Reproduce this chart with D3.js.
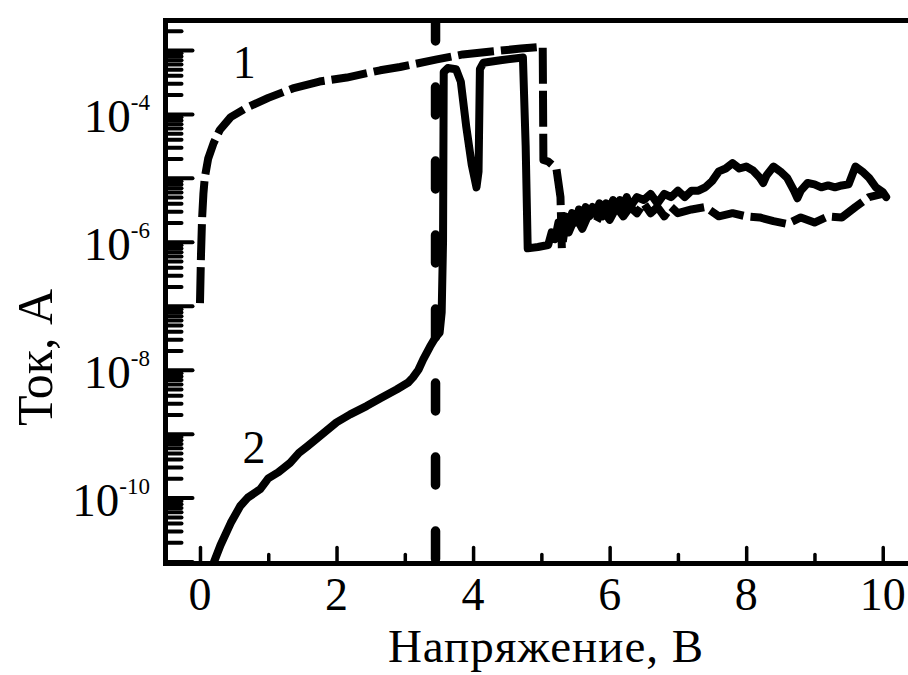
<!DOCTYPE html>
<html>
<head>
<meta charset="utf-8">
<script src="https://cdn.jsdelivr.net/npm/d3@7/dist/d3.min.js"></script>
<style>
  html, body { margin: 0; padding: 0; background: #fff; }
  svg { display: block; }
  svg text { font-family: 'Liberation Serif', 'Times New Roman', Tinos, 'Nimbus Roman', 'DejaVu Serif', serif; fill: #000; }
</style>
</head>
<body>
<svg id="chart" width="908" height="675"></svg>
<script>
// Curve 1 (dashed): current vs voltage
const voltage1 = [0.00, 0.015, 0.03, 0.05, 0.07, 0.12, 0.2, 0.29, 0.45, 0.69, 1.0, 1.36, 1.75, 2.15, 2.64, 2.93, 3.47, 3.85, 4.3, 4.7, 5.02,
  5.03, 5.1, 5.22, 5.28, 5.3, 5.35, 5.4, 5.5, 5.6, 5.7, 5.8, 5.9, 6.0, 6.1, 6.2, 6.3, 6.4, 6.5, 6.6, 6.7, 6.8, 6.9, 7.0,
  7.2, 7.4, 7.6, 7.8, 8.0, 8.2, 8.4, 8.6, 8.8, 9.0, 9.2, 9.4, 9.6, 9.8, 10.0];
const current1 = [1.1e-7, 6.3e-7, 2.2e-6, 5.6e-6, 1.0e-5, 2.0e-5, 3.5e-5, 5.6e-5, 8.9e-5, 1.26e-4, 1.78e-4, 2.5e-4, 3.2e-4, 3.7e-4, 4.8e-4, 5.4e-4, 7.1e-4, 8.5e-4, 9.5e-4, 1.05e-3, 1.12e-3,
  1.9e-5, 1.8e-5, 1.4e-5, 5.0e-6, 7.9e-7, 1.8e-6, 1.4e-6, 2.5e-6, 1.6e-6, 2.8e-6, 2.0e-6, 3.2e-6, 2.2e-6, 3.5e-6, 2.5e-6, 3.5e-6, 2.8e-6, 4.0e-6, 2.8e-6, 3.5e-6, 2.5e-6, 3.5e-6, 2.8e-6,
  3.2e-6, 3.5e-6, 2.5e-6, 2.8e-6, 2.5e-6, 2.4e-6, 2.1e-6, 1.9e-6, 2.4e-6, 2.0e-6, 2.5e-6, 2.4e-6, 3.5e-6, 5.0e-6, 5.6e-6];

// Curve 2 (solid): current vs voltage
const voltage2 = [0.17, 0.3, 0.45, 0.59, 0.7, 0.88, 1.0, 1.15, 1.32, 1.45, 1.57, 1.8, 2.0, 2.2, 2.44, 2.65, 2.88, 3.05, 3.12, 3.2, 3.27, 3.37, 3.45, 3.51, 3.54, 3.56,
  3.57, 3.63, 3.75, 3.82, 3.9, 3.98, 4.05, 4.08, 4.1, 4.15, 4.4, 4.73, 4.77, 4.8, 4.95, 5.1,
  5.15, 5.2, 5.25, 5.3, 5.35, 5.4, 5.45, 5.5, 5.55, 5.6, 5.65, 5.7, 5.75, 5.8, 5.85, 5.9, 5.95, 6.0, 6.05, 6.1, 6.15, 6.2, 6.25, 6.3,
  6.4, 6.5, 6.6, 6.7, 6.8, 6.9, 7.0, 7.1, 7.2, 7.3, 7.4, 7.5, 7.6, 7.7, 7.8, 7.9, 8.0, 8.1, 8.2, 8.25, 8.3, 8.4, 8.5, 8.6, 8.7, 8.75, 8.8, 8.9,
  9.0, 9.1, 9.2, 9.3, 9.4, 9.5, 9.6, 9.7, 9.8, 9.9, 10.0, 10.05];
const current2 = [7.9e-12, 1.8e-11, 4.0e-11, 7.4e-11, 1.0e-10, 1.35e-10, 2.0e-10, 2.5e-10, 3.5e-10, 5.0e-10, 6.3e-10, 1.0e-9, 1.5e-9, 2.0e-9, 2.7e-9, 3.6e-9, 4.9e-9, 6.3e-9, 7.6e-9, 1.0e-8, 1.45e-8, 2.3e-8, 3.2e-8, 3.8e-8, 7.9e-8, 1.0e-6,
  4.5e-4, 5.2e-4, 5.0e-4, 3.2e-4, 6.3e-5, 1.6e-5, 7.1e-6, 1.26e-5, 5.0e-4, 6.3e-4, 6.9e-4, 7.6e-4, 3.2e-5, 7.9e-7, 8.3e-7, 8.9e-7,
  1.4e-6, 1.1e-6, 2.0e-6, 1.4e-6, 2.5e-6, 1.8e-6, 2.8e-6, 2.0e-6, 3.2e-6, 2.2e-6, 3.5e-6, 2.5e-6, 3.5e-6, 2.8e-6, 4.0e-6, 2.5e-6, 4.0e-6, 3.2e-6, 4.5e-6, 3.2e-6, 4.5e-6, 3.5e-6, 5.0e-6, 3.5e-6,
  5.0e-6, 4.5e-6, 5.6e-6, 4.0e-6, 5.6e-6, 5.0e-6, 6.3e-6, 5.0e-6, 6.3e-6, 6.3e-6, 7.1e-6, 8.9e-6, 1.26e-5, 1.4e-5, 1.7e-5, 1.4e-5, 1.5e-5, 1.3e-5, 1.0e-5, 8.3e-6, 1.1e-5, 1.5e-5, 1.26e-5, 1.0e-5, 6.3e-6, 4.8e-6, 6.3e-6, 8.3e-6,
  7.9e-6, 7.1e-6, 7.6e-6, 7.1e-6, 7.6e-6, 7.9e-6, 1.5e-5, 1.26e-5, 1.0e-5, 7.1e-6, 6.0e-6, 5.0e-6];

// Vertical dashed marker voltage
const markerVoltage = 3.45;

// Axis ticks and labels
const xTickValues = [0, 1, 2, 3, 4, 5, 6, 7, 8, 9, 10];
const xTickLabels = [0, 2, 4, 6, 8, 10];
const yLabelExponents = [-4, -6, -8, -10];
const curveLabels = [
  { text: "1", v: 0.65, i: 3.6e-4 },
  { text: "2", v: 0.79, i: 3.5e-10 }
];
const xTitle = "Напряжение, В";
const yTitle = "Ток, А";

const serif = "'Liberation Serif', 'Times New Roman', Tinos, 'Nimbus Roman', 'DejaVu Serif', serif";

const svg = d3.select("#chart");
const plotLeft = 165.5, plotTop = 20.5, plotRight = 908, plotBottom = 563.5;

const x = d3.scaleLinear().domain([-0.505, 10.37]).range([plotLeft, plotRight]);
const y = d3.scaleLog().domain([Math.pow(10, -11.03), Math.pow(10, -2.54)]).range([plotBottom, plotTop]);

svg.append("defs").append("clipPath").attr("id", "plotClip")
  .append("rect").attr("x", plotLeft).attr("y", plotTop).attr("width", plotRight - plotLeft).attr("height", plotBottom - plotTop);

const plot = svg.append("g").attr("clip-path", "url(#plotClip)");

const line = d3.line().x(d => x(d[0])).y(d => y(d[1]));

// Vertical dashed marker, drawn from the bottom up
plot.append("line")
  .attr("x1", x(markerVoltage)).attr("x2", x(markerVoltage))
  .attr("y1", plotBottom).attr("y2", plotTop - 10)
  .attr("stroke", "#000").attr("stroke-width", 9.5)
  .attr("stroke-linecap", "round")
  .attr("stroke-dasharray", "28,46")
  .attr("stroke-dashoffset", -4.5);

// Curve 1 — dashed
plot.append("path")
  .datum(voltage1.map((v, k) => [v, current1[k]]))
  .attr("d", line)
  .attr("fill", "none").attr("stroke", "#000").attr("stroke-width", 8)
  .attr("stroke-linejoin", "round")
  .attr("stroke-dasharray", "36,7");

// Curve 2 — solid
plot.append("path")
  .datum(voltage2.map((v, k) => [v, current2[k]]))
  .attr("d", line)
  .attr("fill", "none").attr("stroke", "#000").attr("stroke-width", 8)
  .attr("stroke-linejoin", "round").attr("stroke-linecap", "round");

// Y axis ticks (inward), major decades and minor multiples
const allY = y.ticks();
const majorY = allY.filter(t => Math.abs(Math.log10(t) - Math.round(Math.log10(t))) < 1e-9);
const minorY = allY.filter(t => !majorY.includes(t));

const yMajorAxis = d3.axisLeft(y).tickValues(majorY).tickSizeInner(-27).tickSizeOuter(0).tickFormat("");
const yMinorAxis = d3.axisLeft(y).tickValues(minorY).tickSizeInner(-16).tickSizeOuter(0).tickFormat("");
[yMajorAxis, yMinorAxis].forEach(ax => {
  const g = svg.append("g").attr("transform", `translate(${plotLeft},0)`).call(ax);
  g.select(".domain").remove();
  g.selectAll(".tick line").attr("stroke", "#000").attr("stroke-width", 4).attr("stroke-linecap", "round");
});

// X axis ticks (inward)
const xMajorAxis = d3.axisBottom(x).tickValues(xTickValues.filter(v => v % 2 === 0)).tickSizeInner(-16).tickSizeOuter(0).tickFormat("");
const xMinorAxis = d3.axisBottom(x).tickValues(xTickValues.filter(v => v % 2 !== 0)).tickSizeInner(-9).tickSizeOuter(0).tickFormat("");
[xMajorAxis, xMinorAxis].forEach(ax => {
  const g = svg.append("g").attr("transform", `translate(0,${plotBottom})`).call(ax);
  g.select(".domain").remove();
  g.selectAll(".tick line").attr("stroke", "#000").attr("stroke-width", 3.5).attr("stroke-linecap", "round");
});

// Frame lines: left, top, bottom
svg.append("line").attr("x1", plotLeft).attr("x2", plotLeft).attr("y1", plotTop - 2.5).attr("y2", plotBottom + 2.5)
  .attr("stroke", "#000").attr("stroke-width", 5);
svg.append("line").attr("x1", plotLeft - 2.5).attr("x2", plotRight).attr("y1", plotTop).attr("y2", plotTop)
  .attr("stroke", "#000").attr("stroke-width", 5);
svg.append("line").attr("x1", plotLeft - 2.5).attr("x2", plotRight).attr("y1", plotBottom).attr("y2", plotBottom)
  .attr("stroke", "#000").attr("stroke-width", 5);

// X tick labels
svg.append("g").selectAll("text").data(xTickLabels).join("text")
  .attr("x", d => x(d)).attr("y", 610)
  .attr("text-anchor", "middle").attr("font-size", 46).attr("font-family", serif)
  .text(d => d);

// Y tick labels: 10 with superscript exponent
const yl = svg.append("g").selectAll("text").data(yLabelExponents).join("text")
  .attr("x", 150).attr("y", d => y(Math.pow(10, d)) + 18)
  .attr("text-anchor", "end").attr("font-size", 47).attr("font-family", serif);
yl.append("tspan").text("10");
yl.append("tspan").attr("font-size", 23).attr("dy", -22).text(d => "-" + Math.abs(d));

// Curve labels
svg.append("g").selectAll("text").data(curveLabels).join("text")
  .attr("x", d => x(d.v)).attr("y", d => y(d.i))
  .attr("text-anchor", "middle").attr("font-size", 46).attr("font-family", serif)
  .text(d => d.text);

// Axis titles
svg.append("text").attr("x", 546).attr("y", 662)
  .attr("text-anchor", "middle").attr("font-size", 47).attr("letter-spacing", 1)
  .attr("font-family", serif).text(xTitle);
svg.append("text").attr("transform", "translate(52,357.5) rotate(-90)")
  .attr("text-anchor", "middle").attr("font-size", 50).attr("font-family", serif).text(yTitle);
</script>
</body>
</html>
